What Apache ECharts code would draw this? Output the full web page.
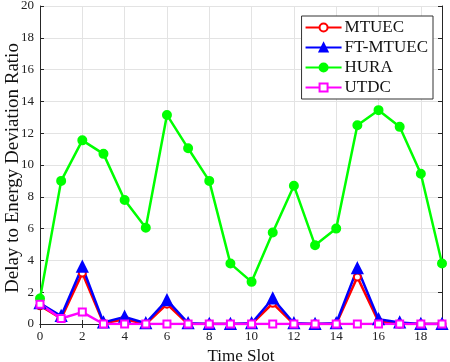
<!DOCTYPE html>
<html>
<head>
<meta charset="utf-8">
<script src="https://cdn.jsdelivr.net/npm/echarts@6/dist/echarts.min.js"></script>
<style>
  html, body { margin: 0; padding: 0; background: #fff; }
  #chart { width: 450px; height: 362px; }
</style>
</head>
<body>
<div id="chart"></div>
<script>
// time slots on the x axis
const timeSlots = ['0', '1', '2', '3', '4', '5', '6', '7', '8', '9', '10', '11', '12', '13', '14', '15', '16', '17', '18', '19']

// values
const mtuec = [1.15, 0.35, 3.2, 0.05, 0.3, 0.0, 1.25, 0.0, 0.0, 0.0, 0.0, 1.3, 0.0, 0.0, 0.0, 2.95, 0.15, 0.0, 0.0, 0.0]
const ftMtuec = [1.3, 0.5, 3.6, 0.1, 0.45, 0.05, 1.5, 0.05, 0.0, 0.0, 0.05, 1.6, 0.05, 0.0, 0.05, 3.5, 0.3, 0.1, 0.0, 0.0]
const hura = [1.6, 9.0, 11.55, 10.7, 7.8, 6.05, 13.15, 11.05, 9.0, 3.8, 2.65, 5.75, 8.7, 4.95, 6.0, 12.5, 13.45, 12.4, 9.45, 3.8]
const utdc = [1.25, 0.35, 0.75, 0.0, 0.0, 0.0, 0.0, 0.0, 0.0, 0.0, 0.0, 0.0, 0.0, 0.0, 0.0, 0.0, 0.0, 0.0, 0.0, 0.0]

const serif = 'Liberation Serif'
const axisColor = '#262626'
const gridColor = '#e3e3e3'

const chart = echarts.init(document.getElementById('chart'))

const lineSeries = (name, data, color, symbol, size) => ({
  name: name,
  type: 'line',
  data: data,
  symbol: symbol,
  symbolSize: size,
  showAllSymbol: true,
  lineStyle: { color: color, width: 2.5 },
  itemStyle: { color: color, borderColor: color, borderWidth: 2 },
  emphasis: { disabled: true },
  animation: false
})

const option = {
  backgroundColor: '#fff',
  grid: { left: 40, right: 8, top: 6, bottom: 38, outerBoundsMode: 'none' },
  // y axis title drawn as plain rotated text so it is not clipped
  graphic: [
    {
      type: 'text',
      x: 13,
      y: 168,
      rotation: Math.PI / 2,
      style: {
        text: 'Delay to Energy Deviation Ratio',
        fontFamily: serif,
        fontSize: 19,
        fill: '#111',
        align: 'center',
        verticalAlign: 'middle'
      }
    }
  ],
  legend: {
    top: 16,
    right: 17,
    orient: 'vertical',
    itemWidth: 36,
    itemHeight: 10,
    itemGap: 3,
    padding: [3, 5, 3, 3],
    borderColor: '#333',
    borderWidth: 1,
    borderRadius: 0,
    backgroundColor: '#fff',
    textStyle: { fontFamily: serif, fontSize: 17, color: '#111', padding: [0, 0, 0, -2] },
    data: ['MTUEC', 'FT-MTUEC', 'HURA', 'UTDC']
  },
  xAxis: [
    {
      type: 'category',
      data: timeSlots,
      boundaryGap: false,
      name: 'Time Slot',
      nameLocation: 'middle',
      nameGap: 22,
      nameTextStyle: { fontFamily: serif, fontSize: 17, color: '#111' },
      axisLine: { lineStyle: { color: axisColor } },
      axisTick: { inside: true, interval: 1, length: 4, lineStyle: { color: axisColor } },
      axisLabel: { interval: 1, fontFamily: serif, fontSize: 13, color: '#222', margin: 6 },
      splitLine: { show: true, interval: 1, lineStyle: { color: gridColor } }
    },
    {
      type: 'category',
      data: timeSlots,
      boundaryGap: false,
      position: 'top',
      axisLine: { lineStyle: { color: axisColor } },
      axisTick: { inside: true, interval: 1, length: 4, lineStyle: { color: axisColor } },
      axisLabel: { show: false },
      splitLine: { show: false }
    }
  ],
  yAxis: [
    {
      type: 'value',
      min: 0,
      max: 20,
      interval: 2,
      axisLine: { show: true, lineStyle: { color: axisColor } },
      axisTick: { show: true, inside: true, length: 4, lineStyle: { color: axisColor } },
      axisLabel: { fontFamily: serif, fontSize: 13, color: '#222', margin: 6 },
      splitLine: { show: true, lineStyle: { color: gridColor } }
    },
    {
      type: 'value',
      min: 0,
      max: 20,
      interval: 2,
      position: 'right',
      axisLine: { show: true, lineStyle: { color: axisColor } },
      axisTick: { show: true, inside: true, length: 4, lineStyle: { color: axisColor } },
      axisLabel: { show: false },
      splitLine: { show: false }
    }
  ],
  series: [
    lineSeries('MTUEC', mtuec, '#ff0000', 'emptyCircle', 7),
    lineSeries('FT-MTUEC', ftMtuec, '#0000ff', 'triangle', 10),
    lineSeries('HURA', hura, '#00ff00', 'circle', 8),
    lineSeries('UTDC', utdc, '#ff00ff', 'emptyRect', 7)
  ]
}

chart.setOption(option)
</script>
</body>
</html>
